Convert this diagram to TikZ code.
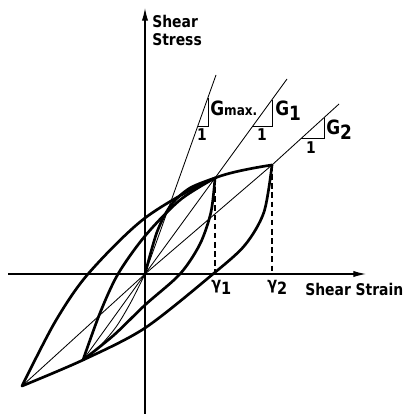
\documentclass[tikz,border=0pt]{standalone}
\usepackage{fontspec}
\setmainfont{DejaVu Sans}[BoldFont={DejaVu Sans Bold},FakeStretch=0.86]
\usetikzlibrary{arrows.meta}
\usetikzlibrary{positioning}
\tikzset{
    axisline/.style = {-{Latex[length=9pt,width=4.5pt]},line width=0.9pt},
    branch/.style={line width=1.9pt,line cap=round,line join=round},
    secant/.style={line width=0.6pt},
    drop/.style={line width=0.9pt,dash pattern=on 4pt off 2.5pt},
    lbl/.style={inner sep=0pt,font=\fontsize{11.5}{14}\selectfont\bfseries},
    glbl/.style={inner sep=0pt,font=\fontsize{14}{16}\selectfont\bfseries}
}

\begin{document}
\begin{tikzpicture}[x=0.025cm,y=-0.025cm]
\useasboundingbox (0,0) rectangle (405,414);
% tips of the loops
\coordinate (O) at (145,274);
\coordinate (P1) at (215,178);
\coordinate (P2) at (272,165);
\coordinate (Q1) at (83,360);
\coordinate (Q2) at (22,386);
\coordinate (g1) at (215,274);
\coordinate (g2) at (272,274);

% axes
\coordinate (xl) at (8,274);
\coordinate (xr) at (366,274);
\coordinate (yb) at (145,414);
\coordinate (yt) at (145,8);
\draw[axisline] (xl) -- (xr);
\draw[axisline] (yb) -- (yt);

\node[lbl,anchor=base west] (shear) at (152,27) {Shear};
\node[lbl,anchor=base west] (stress) at (152,45) {Stress};
\node[lbl,anchor=base west] (strain) at (305,295) {Shear Strain};
\node[lbl,anchor=base west] (gam1) at (211,289) {\large γ\raisebox{-0.6ex}{1}};
\node[lbl,anchor=base west] (gam2) at (267,289) {\large γ\raisebox{-0.6ex}{2}};

% secant lines
\coordinate (tmax) at (216,75);
\coordinate (t1) at (287,79);
\coordinate (t2) at (339,104);
\draw[secant] (O) -- (tmax);
\draw[secant] (Q1) -- (O) -- (P1) -- (t1);
\draw[secant] (Q2) -- (O) -- (P2) -- (t2);

% slope triangles
\coordinate (amax) at (198,126);
\coordinate (bmax) at (208,126);
\coordinate (cmax) at (208,98);
\draw[secant] (amax) -- (bmax) -- (cmax);
\coordinate (a1) at (253,126);
\coordinate (b1) at (272,126);
\coordinate (c1) at (272,100);
\draw[secant] (a1) -- (b1) -- (c1);
\coordinate (a2) at (301,138);
\coordinate (b2) at (324,138);
\coordinate (c2) at (324,118);
\draw[secant] (a2) -- (b2) -- (c2);

\node[lbl] (onemax) at (202,135) {1};
\node[lbl] (one1) at (262,135) {1};
\node[lbl] (one2) at (311,148) {1};
\node[glbl,anchor=base west] (gmax) at (210,115) {G{\fontsize{10}{12}\selectfont max.}};
\node[glbl,anchor=base west] (gone) at (275,115) {G\raisebox{-0.5ex}{1}};
\node[glbl,anchor=base west] (gtwo) at (326,134) {G\raisebox{-0.5ex}{2}};

% strain amplitudes
\draw[drop] (P1) -- (g1);
\draw[drop] (P2) -- (g2);

% large loop
\draw[branch] plot[smooth] coordinates {(22,386) (55,322) (88,274) (145,218) (215,178) (272,165)};
\draw[branch] plot[smooth] coordinates {(272,165) (264,212) (245,245) (213,274) (145,328) (83,360) (22,386)};
% small loop
\draw[branch] plot[smooth] coordinates {(83,360) (100,313) (118,274) (145,236) (180,200) (215,178)};
\draw[branch] plot[smooth] coordinates {(215,178) (211,212) (200,244) (180,274) (145,305) (114,335) (83,360)};
% backbone
\draw[branch] plot[smooth] coordinates {(145,274) (157,232) (171,205) (190,188) (215,178)};
\draw[secant] plot[smooth] coordinates {(145,274) (131,302) (116,327) (99,347) (83,360)};
\end{tikzpicture}
\end{document}
